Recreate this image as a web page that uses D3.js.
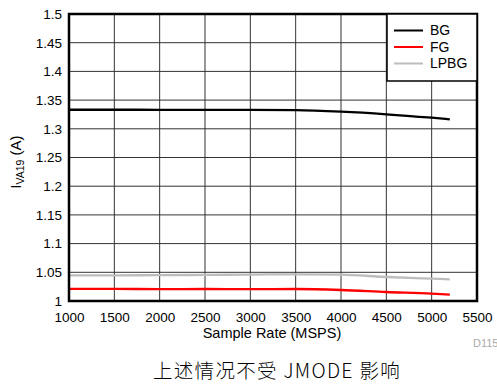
<!DOCTYPE html>
<html>
<head>
<meta charset="utf-8">
<script src="https://cdn.jsdelivr.net/npm/d3@7"></script>
<style>
  body { margin: 0; background: #fff; }
  svg { display: block; font-family: "Liberation Sans", Arial, sans-serif; }
</style>
</head>
<body>
<svg id="chart"></svg>
<script>
const width = 497;
const height = 386;

// data
const sampleRate = [1000, 1500, 2000, 2500, 3000, 3500, 4000, 4500, 5000, 5200];
const bg   = [1.3332, 1.3332, 1.3331, 1.3330, 1.3330, 1.3325, 1.3298, 1.3253, 1.3193, 1.3166];
const fg   = [1.0210, 1.0211, 1.0208, 1.0209, 1.0208, 1.0209, 1.0192, 1.0157, 1.0127, 1.0110];
const lpbg = [1.0446, 1.0448, 1.0450, 1.0455, 1.0460, 1.0465, 1.0459, 1.0418, 1.0389, 1.0378];

const xTicks = [1000, 1500, 2000, 2500, 3000, 3500, 4000, 4500, 5000, 5500];
const yTicks = [1, 1.05, 1.1, 1.15, 1.2, 1.25, 1.3, 1.35, 1.4, 1.45, 1.5];

const series = [
  { name: "BG", values: bg, color: "#000000" },
  { name: "FG", values: fg, color: "#ff0000" },
  { name: "LPBG", values: lpbg, color: "#bdbdbd" }
];

const margin = { left: 69, top: 14, right: 20, bottom: 85 };
const plotW = 408, plotH = 287;

const svg = d3.select("#chart").attr("width", width).attr("height", height);
const g = svg.append("g").attr("transform", `translate(${margin.left},${margin.top})`);

const x = d3.scaleLinear().domain([1000, 5500]).range([0, plotW]);
const y = d3.scaleLinear().domain([1, 1.5]).range([plotH, 0]);

// grid
g.append("g")
  .selectAll("line")
  .data(xTicks)
  .join("line")
  .attr("x1", d => x(d)).attr("x2", d => x(d))
  .attr("y1", 0).attr("y2", plotH)
  .attr("stroke", "#333").attr("stroke-width", 1);

g.append("g")
  .selectAll("line")
  .data(yTicks)
  .join("line")
  .attr("x1", 0).attr("x2", plotW)
  .attr("y1", d => y(d)).attr("y2", d => y(d))
  .attr("stroke", "#333").attr("stroke-width", 1);

// axes (labels only)
const xAxis = g.append("g")
  .attr("transform", `translate(0,${plotH})`)
  .call(d3.axisBottom(x).tickValues(xTicks).tickSize(0).tickPadding(11).tickFormat(d3.format("d")));
const yAxis = g.append("g")
  .call(d3.axisLeft(y).tickValues(yTicks).tickSize(0).tickPadding(7).tickFormat(d => String(d)));
[xAxis, yAxis].forEach(a => {
  a.select(".domain").remove();
  a.selectAll("text").attr("font-size", 13.5).attr("fill", "#000")
    .attr("font-family", "'Liberation Sans', Arial, sans-serif");
});

// lines
const line = d3.line()
  .x((d, i) => x(sampleRate[i]))
  .y(d => y(d))
  .curve(d3.curveMonotoneX);

g.append("g")
  .selectAll("path")
  .data(series.slice().reverse())
  .join("path")
  .attr("fill", "none")
  .attr("stroke", d => d.color)
  .attr("stroke-width", 2.3)
  .attr("d", d => line(d.values));

// frame
g.append("rect")
  .attr("x", 0).attr("y", 0)
  .attr("width", plotW).attr("height", plotH)
  .attr("fill", "none").attr("stroke", "#000").attr("stroke-width", 2.5);

// legend
const legend = g.append("g").attr("transform", `translate(${plotW - 90},0)`);
legend.append("rect")
  .attr("x", 0).attr("y", 0).attr("width", 90).attr("height", 67)
  .attr("fill", "#fff").attr("stroke", "#000").attr("stroke-width", 1.5);
series.forEach((s, i) => {
  const ly = 16.5 + i * 16.5;
  legend.append("line")
    .attr("x1", 7).attr("x2", 36).attr("y1", ly).attr("y2", ly)
    .attr("stroke", s.color).attr("stroke-width", 2);
  legend.append("text")
    .attr("x", 43).attr("y", ly).attr("dy", "0.35em")
    .attr("font-size", 14).text(s.name);
});

// axis titles
svg.append("text")
  .attr("x", margin.left + plotW / 2 - 1).attr("y", 338)
  .attr("text-anchor", "middle").attr("font-size", 14.5)
  .text("Sample Rate (MSPS)");

const yTitle = svg.append("text")
  .attr("transform", "translate(21,162) rotate(-90)")
  .attr("text-anchor", "middle").attr("font-size", 15);
yTitle.append("tspan").text("I");
yTitle.append("tspan").attr("font-size", 10.5).attr("dy", 3).text("VA19");
yTitle.append("tspan").attr("dy", -3).text(" (A)");

svg.append("text")
  .attr("x", 473).attr("y", 347)
  .attr("font-size", 11).attr("fill", "#aaa")
  .text("D115");

svg.append("text")
  .attr("x", 277).attr("y", 378)
  .attr("text-anchor", "middle").attr("font-size", 19.5)
  .attr("font-family", "'Noto Sans CJK SC', 'Liberation Sans', sans-serif")
  .attr("font-weight", 300)
  .attr("letter-spacing", 1.3)
  .text("上述情况不受 JMODE 影响");
</script>
</body>
</html>
